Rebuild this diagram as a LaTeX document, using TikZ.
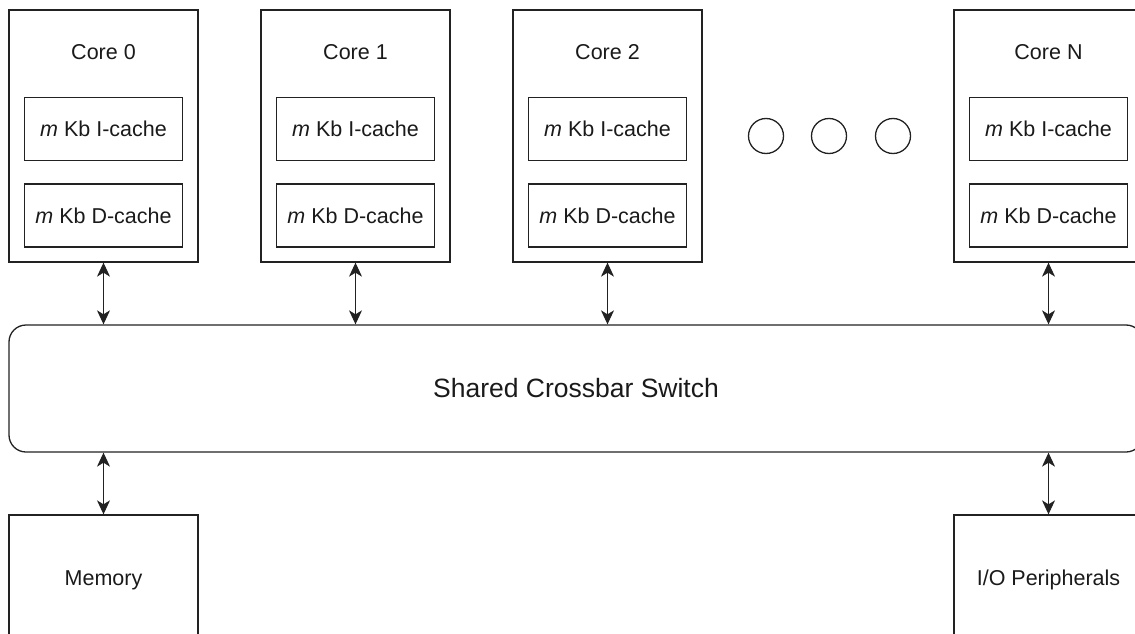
\documentclass[tikz,border=0pt]{standalone}
\usepackage{fontspec}
\setmainfont{Liberation Sans}
\usetikzlibrary{arrows.meta,positioning}
\definecolor{ln}{HTML}{222222}
\definecolor{tx}{HTML}{1A1A1A}
\tikzset{
  tip/.tip={Stealth[length=14pt,width=13pt,inset=4pt]},
  corebox/.style={draw=ln, line width=1.3pt, minimum width=189pt, minimum height=252pt, inner sep=0pt},
  cachebox/.style={draw=ln, line width=1.3pt, minimum width=158pt, minimum height=63pt, inner sep=0pt, text=tx, font=\fontsize{21.5}{24}\selectfont},
  lbl/.style={text=tx, font=\fontsize{21.5}{24}\selectfont, inner sep=0pt},
  iobox/.style={draw=ln, line width=1.3pt, minimum width=189pt, minimum height=130pt, inner sep=0pt, text=tx, font=\fontsize{21.5}{24}\selectfont},
  switchbox/.style={draw=ln, line width=1.3pt, rounded corners=17pt, minimum width=1134pt, minimum height=127pt, inner sep=0pt, text=tx, font=\fontsize{26.5}{30}\selectfont},
  dot/.style={draw=ln, line width=1.3pt, circle, minimum size=35pt, inner sep=0pt},
  link/.style={draw=ln, line width=1.1pt, arrows={tip-tip}}
}
\begin{document}
\begin{tikzpicture}[x=1pt,y=-1pt]
\useasboundingbox (0,0) rectangle (1135,634);
\clip (0,0) rectangle (1135,634);
% cores
\node[corebox] (c0) at (103.5,136) {};
\node[corebox] (c1) at (355.5,136) {};
\node[corebox] (c2) at (607.5,136) {};
\node[corebox] (cn) at (1048.5,136) {};
\node[lbl] (l0) at (103.5,52) {Core 0};
\node[lbl] (l1) at (355.5,52) {Core 1};
\node[lbl] (l2) at (607.5,52) {Core 2};
\node[lbl] (ln) at (1048.5,52) {Core N};
\node[cachebox] (i0) at (103.5,129) {\textit{m} Kb I-cache};
\node[cachebox] (d0) at (103.5,215.5) {\textit{m} Kb D-cache};
\node[cachebox] (i1) at (355.5,129) {\textit{m} Kb I-cache};
\node[cachebox] (d1) at (355.5,215.5) {\textit{m} Kb D-cache};
\node[cachebox] (i2) at (607.5,129) {\textit{m} Kb I-cache};
\node[cachebox] (d2) at (607.5,215.5) {\textit{m} Kb D-cache};
\node[cachebox] (in) at (1048.5,129) {\textit{m} Kb I-cache};
\node[cachebox] (dn) at (1048.5,215.5) {\textit{m} Kb D-cache};
% dots
\node[dot] (o1) at (766,136) {};
\node[dot] (o2) at (829,136) {};
\node[dot] (o3) at (893,136) {};
% switch
\node[switchbox] (sw) at (576,388.5) {Shared Crossbar Switch};
% memory and io
\node[iobox] (mem) at (103.5,580) {Memory};
\node[iobox] (io) at (1048.5,580) {I/O Peripherals};
% links
\draw[link] (c0.south) -- (c0.south |- sw.north);
\draw[link] (c1.south) -- (c1.south |- sw.north);
\draw[link] (c2.south) -- (c2.south |- sw.north);
\draw[link] (cn.south) -- (cn.south |- sw.north);
\draw[link] (mem.north |- sw.south) -- (mem.north);
\draw[link] (io.north |- sw.south) -- (io.north);
\end{tikzpicture}
\end{document}
